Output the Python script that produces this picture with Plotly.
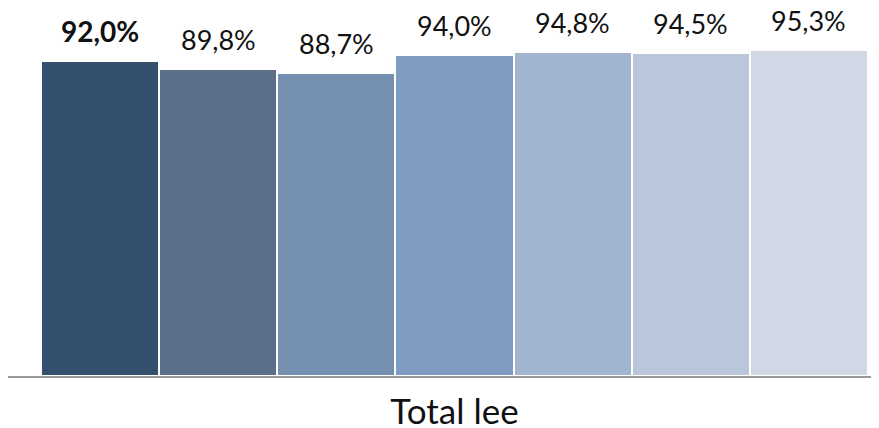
import plotly.graph_objects as go

category = "Total lee"
values = [92.0, 89.8, 88.7, 94.0, 94.8, 94.5, 95.3]
colors = ["#354F6E", "#5B6F8A", "#7590B1", "#7F9DC2", "#A1B5CE", "#BAC7DA", "#D0D8E5"]
bold_flags = [True, False, False, False, False, False, False]

positions = list(range(len(values)))

fig = go.Figure()
fig.add_trace(go.Bar(
    x=positions, y=values, width=1,
    marker=dict(color=colors, line=dict(color="white", width=2)),
    hoverinfo="skip", showlegend=False,
))

for xi, v, b in zip(positions, values, bold_flags):
    label = f"{v:.1f}%".replace(".", ",")
    size = 27
    if b:
        label = f"<b>{label}</b>"
        size = 28
    fig.add_annotation(x=xi, y=v, text=label, showarrow=False, yanchor="bottom",
                       yshift=11, font=dict(family="Lato", size=size, color="#111111"))

fig.update_layout(
    width=871, height=420,
    margin=dict(l=0, r=0, t=9, b=52),
    paper_bgcolor="white", plot_bgcolor="white",
    bargap=0,
    font=dict(family="Lato", color="#111111"),
    xaxis=dict(range=[-0.779, 6.593], tickmode="array", tickvals=[3], ticktext=[category],
               showgrid=False, zeroline=False, showline=True, linecolor="#9A9A9A", linewidth=2,
               ticks="", tickfont=dict(size=35, family="Lato"), ticklabelstandoff=4,
               automargin=False),
    yaxis=dict(range=[0, 105], visible=False),
)

fig.write_html("out.html")
